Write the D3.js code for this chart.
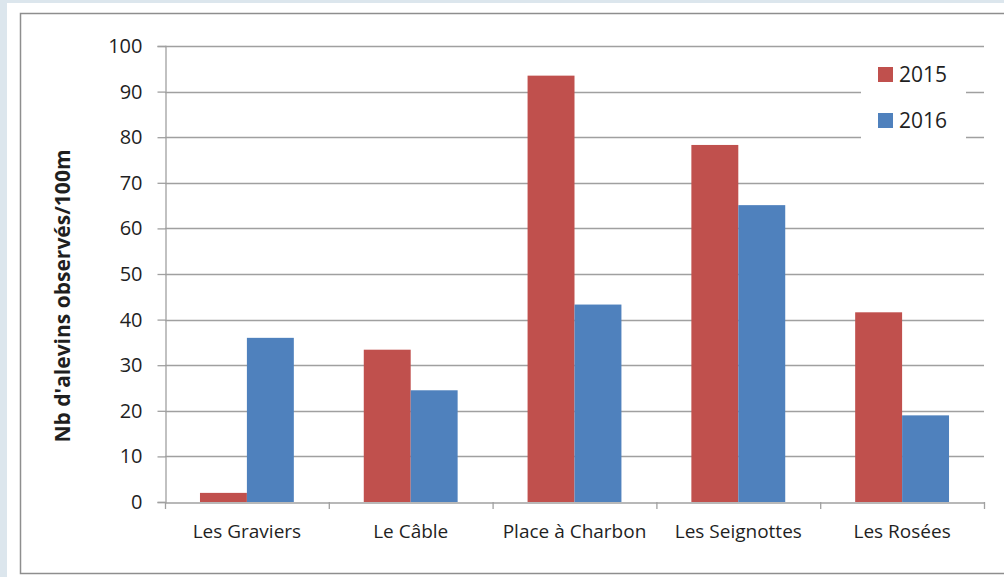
<!DOCTYPE html>
<html>
<head>
<meta charset="utf-8">
<script src="https://cdn.jsdelivr.net/npm/d3@7"></script>
<style>
  body { margin: 0; background: #dce6ed; }
  svg { display: block; }
  text { font-family: "Open Sans", "Noto Sans", sans-serif; fill: #1f1f1f; }
</style>
</head>
<body>
<script>
// data
var sites = ["Les Graviers", "Le Câble", "Place à Charbon", "Les Seignottes", "Les Rosées"];
var years = ["2015", "2016"];
var v2015 = [2, 33.4, 93.5, 78.3, 41.6];
var v2016 = [36, 24.5, 43.3, 65.1, 19.0];
var yTicks = [0, 10, 20, 30, 40, 50, 60, 70, 80, 90, 100];
var colors = ["#c0504d", "#4f81bd"];

(function () {
  var W = 1004, H = 577;
  var svg = d3.select("body").append("svg").attr("width", W).attr("height", H);

  // white panel + frame
  svg.append("rect").attr("x", 7).attr("y", 3).attr("width", W - 7).attr("height", H - 3).attr("fill", "#fff");
  svg.append("rect").attr("x", 20.5).attr("y", 13.5).attr("width", W).attr("height", 560)
      .attr("fill", "none").attr("stroke", "#8e8e8e").attr("stroke-width", 1.5);

  var pl = 165, pr = 984, pt = 46, pb = 502;
  var x = d3.scaleBand().domain(sites).range([pl, pr]).paddingInner(0.427).paddingOuter(0.2135);
  var x1 = d3.scaleBand().domain(years).range([0, x.bandwidth()]);
  var y = d3.scaleLinear().domain([0, 100]).range([pb, pt]);

  var grid = "#a0a0a0";

  // gridlines
  svg.append("g").selectAll("line").data(yTicks.filter(d => d > 0)).join("line")
      .attr("x1", pl).attr("x2", pr)
      .attr("y1", d => Math.round(y(d)) + 0.5).attr("y2", d => Math.round(y(d)) + 0.5)
      .attr("stroke", grid).attr("stroke-width", 1.3);

  // y axis
  var ya = svg.append("g").attr("transform", "translate(" + (pl + 0.5) + ",0)")
      .call(d3.axisLeft(y).tickValues(yTicks).tickSize(8).tickPadding(15));
  ya.select(".domain").attr("stroke", grid).attr("stroke-width", 1.3);
  ya.selectAll(".tick line").attr("stroke", grid).attr("stroke-width", 1.3);
  ya.selectAll(".tick text").attr("font-size", 20).attr("font-family", "Open Sans").attr("fill", "#1f1f1f");

  // bars
  var series = [v2015, v2016];
  years.forEach(function (yr, k) {
    svg.append("g").selectAll("rect").data(sites).join("rect")
        .attr("x", d => x(d) + x1(yr))
        .attr("width", x1.bandwidth())
        .attr("y", (d, i) => y(series[k][i]))
        .attr("height", (d, i) => pb - y(series[k][i]))
        .attr("fill", colors[k]);
  });

  // x axis
  var xa = svg.append("g").attr("transform", "translate(0," + (pb + 0.5) + ")")
      .call(d3.axisBottom(x).tickSize(0).tickPadding(22));
  xa.select(".domain").attr("stroke", grid).attr("stroke-width", 1.3);
  xa.selectAll(".tick text").attr("font-size", 19).attr("font-family", "Open Sans").attr("fill", "#1f1f1f");
  // category separators
  svg.append("g").selectAll("line").data(d3.range(sites.length + 1)).join("line")
      .attr("x1", i => pl + 0.5 + i * x.step()).attr("x2", i => pl + 0.5 + i * x.step())
      .attr("y1", pb).attr("y2", pb + 7)
      .attr("stroke", grid).attr("stroke-width", 1.3);

  // y title
  svg.append("text")
      .attr("transform", "translate(70,296) rotate(-90)")
      .attr("text-anchor", "middle")
      .attr("font-size", 21).attr("font-weight", "bold")
      .text("Nb d'alevins observés/100m");

  // legend
  var lg = svg.append("g");
  lg.append("rect").attr("x", 861).attr("y", 56).attr("width", 105).attr("height", 88).attr("fill", "#fff");
  years.forEach(function (yr, k) {
    lg.append("rect").attr("x", 878).attr("y", 67 + k * 46).attr("width", 15).attr("height", 15).attr("fill", colors[k]);
    lg.append("text").attr("x", 899).attr("y", 82 + k * 46).attr("font-size", 21).text(yr);
  });
})();
</script>
</body>
</html>
